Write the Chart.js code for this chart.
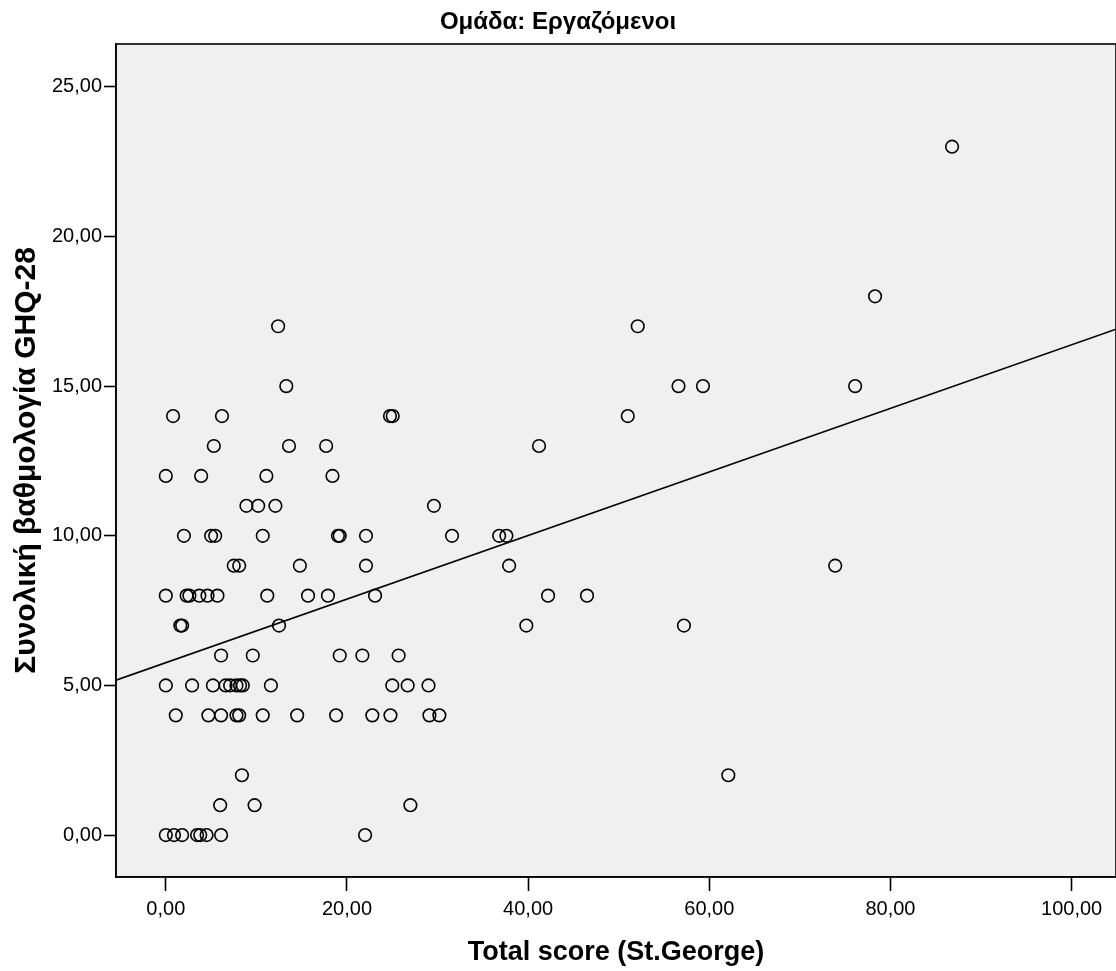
<!DOCTYPE html>
<html>
<head>
<meta charset="utf-8">
<script src="https://cdn.jsdelivr.net/npm/chart.js@4.4.1/dist/chart.umd.min.js"></script>
<style>
  html, body { margin: 0; padding: 0; background: #ffffff; }
  canvas { display: block; }
</style>
</head>
<body>
<canvas id="c" width="1116" height="971"></canvas>
<script>
// ---- Data ----
const chartTitle = "Ομάδα: Εργαζόμενοι";
const xAxisTitle = "Total score (St.George)";
const yAxisTitle = "Συνολική βαθμολογία GHQ-28";

// Total score (St.George) for each respondent
const totalScore = [
  0, 0.9, 1.8, 3.45, 3.8, 4.5, 6.1, 22.0,
  6.0, 9.8, 27.0,
  8.4, 62.1,
  1.1, 4.7, 6.1, 7.8, 8.1, 10.7, 14.5, 18.8, 22.8, 24.8, 29.1, 30.2,
  0, 2.9, 5.2, 6.6, 7.1, 7.8, 8.2, 8.5, 11.6, 25.0, 26.7, 29.0,
  6.1, 9.6, 19.2, 21.7, 25.7,
  1.6, 1.8, 12.5, 39.8, 57.2,
  0, 2.3, 2.6, 3.7, 4.6, 5.7, 11.2, 15.7, 17.9, 23.1, 42.2, 46.5,
  7.5, 8.1, 14.8, 22.1, 37.9, 73.9,
  2.0, 5.0, 5.45, 10.7, 19.0, 19.2, 22.1, 31.6, 36.8, 37.6,
  8.9, 10.2, 12.1, 29.6,
  0, 3.9, 11.1, 18.4,
  5.3, 13.6, 17.7, 41.2,
  0.8, 6.2, 24.75, 25.05, 51.0,
  13.3, 56.6, 59.3, 76.1,
  12.4, 52.1,
  78.3,
  86.8
];
// GHQ-28 total for the same respondents
const ghqScore = [
  0, 0, 0, 0, 0, 0, 0, 0,
  1, 1, 1,
  2, 2,
  4, 4, 4, 4, 4, 4, 4, 4, 4, 4, 4, 4,
  5, 5, 5, 5, 5, 5, 5, 5, 5, 5, 5, 5,
  6, 6, 6, 6, 6,
  7, 7, 7, 7, 7,
  8, 8, 8, 8, 8, 8, 8, 8, 8, 8, 8, 8,
  9, 9, 9, 9, 9, 9,
  10, 10, 10, 10, 10, 10, 10, 10, 10, 10,
  11, 11, 11, 11,
  12, 12, 12, 12,
  13, 13, 13, 13,
  14, 14, 14, 14, 14,
  15, 15, 15, 15,
  17, 17,
  18,
  23
];

// Fit line (linear)
const fitIntercept = 5.76;
const fitSlope = 0.1062;

// Axes
const xMin = -5.5, xMax = 104.9;
const yMin = -1.4, yMax = 26.43;
const xTicks = [0, 20, 40, 60, 80, 100];
const yTicks = [0, 5, 10, 15, 20, 25];

// ---- Build ----
const points = totalScore.map((x, i) => ({ x: x, y: ghqScore[i] }));
const fitLine = [xMin, xMax].map(x => ({ x: x, y: fitIntercept + fitSlope * x }));

const FONT = "'Liberation Sans', Arial, Helvetica, sans-serif";
const fmt = v => Number(v).toFixed(2).replace('.', ',');

const framePlugin = {
  id: 'frame',
  beforeDraw(chart) {
    const { ctx, chartArea: a } = chart;
    ctx.save();
    ctx.fillStyle = '#f0f0f0';
    ctx.fillRect(a.left, a.top, a.right - a.left, a.bottom - a.top);
    ctx.restore();
  },
  afterDraw(chart) {
    const { ctx, chartArea: a } = chart;
    ctx.save();
    ctx.strokeStyle = '#000';
    ctx.lineWidth = 1.6;
    ctx.strokeRect(a.left, a.top, a.right - a.left, a.bottom - a.top);
    ctx.restore();
  }
};

new Chart(document.getElementById('c'), {
  type: 'scatter',
  data: {
    datasets: [
      {
        type: 'scatter',
        data: points,
        pointStyle: 'circle',
        pointRadius: 6.3,
        borderWidth: 1.6,
        borderColor: '#000',
        backgroundColor: 'rgba(0,0,0,0)',
        order: 2
      },
      {
        type: 'line',
        data: fitLine,
        borderColor: '#000',
        borderWidth: 1.6,
        pointRadius: 0,
        fill: false,
        tension: 0,
        order: 1
      }
    ]
  },
  options: {
    responsive: false,
    animation: false,
    events: [],
    layout: { padding: 0, autoPadding: false },
    plugins: {
      legend: { display: false },
      tooltip: { enabled: false },
      title: {
        display: true,
        text: chartTitle,
        color: '#000',
        font: { family: FONT, size: 24, weight: 'bold', lineHeight: 1.2 },
        padding: { top: 7.6, bottom: 7.6 }
      }
    },
    scales: {
      x: {
        type: 'linear',
        position: 'bottom',
        min: xMin,
        max: xMax,
        afterBuildTicks: s => { s.ticks = xTicks.map(v => ({ value: v })); },
        afterFit: s => { s.height = 94; s.paddingRight = 0; s.paddingLeft = 0; },
        ticks: {
          color: '#000',
          font: { family: FONT, size: 20 },
          padding: 6,
          maxRotation: 0,
          callback: v => fmt(v)
        },
        grid: {
          display: true,
          drawOnChartArea: false,
          drawTicks: true,
          tickLength: 14,
          tickColor: '#000',
          tickWidth: 1.6
        },
        border: { display: true, color: '#000', width: 1.6 },
        title: {
          display: true,
          text: xAxisTitle,
          color: '#000',
          font: { family: FONT, size: 27, weight: 'bold', lineHeight: 1.2 },
          padding: { top: 0, bottom: 2 }
        }
      },
      y: {
        type: 'linear',
        position: 'left',
        min: yMin,
        max: yMax,
        afterBuildTicks: s => { s.ticks = yTicks.map(v => ({ value: v })); },
        afterFit: s => { s.width = 116; s.paddingTop = 0; s.paddingBottom = 0; },
        ticks: {
          color: '#000',
          font: { family: FONT, size: 20 },
          padding: 2,
          callback: v => fmt(v)
        },
        grid: {
          display: true,
          drawOnChartArea: false,
          drawTicks: true,
          tickLength: 12,
          tickColor: '#000',
          tickWidth: 1.6
        },
        border: { display: true, color: '#000', width: 1.6 },
        title: {
          display: true,
          text: yAxisTitle,
          color: '#000',
          font: { family: FONT, size: 30, weight: 'bold', lineHeight: 1.2 },
          padding: { top: 9, bottom: 0 }
        }
      }
    }
  },
  plugins: [framePlugin]
});
</script>
</body>
</html>
